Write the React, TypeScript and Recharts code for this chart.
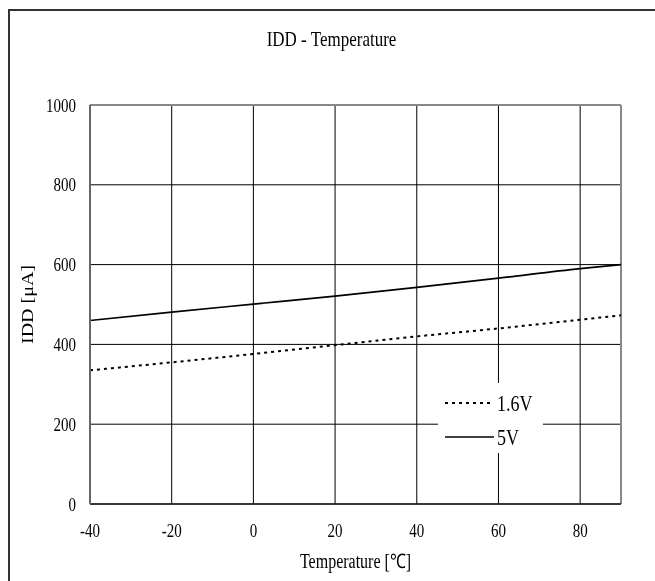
import { LineChart, Line, XAxis, YAxis, CartesianGrid, ReferenceLine, Legend, Label } from 'recharts';

const temperatures = [-40, -20, 0, 20, 40, 60, 80, 90];
const idd16V = [335, 355, 376, 398, 420, 440, 462, 473];
const idd5V = [460, 481, 501, 521, 543, 566, 590, 600];

const xTicks = [-40, -20, 0, 20, 40, 60, 80];
const yTicks = [0, 200, 400, 600, 800, 1000];

const rows = temperatures.map((t, i) => ({ t, v16: idd16V[i], v5: idd5V[i] }));

const FONT = '"Liberation Serif", "Times New Roman", serif';
// glyphs in this sheet are a bit taller than wide
const STRETCH = 1.25;

const XTick = ({ x, y, payload }: any) => (
  <text
    transform={`translate(${x},${y}) scale(1,${STRETCH})`}
    textAnchor="middle"
    dy="0.71em"
    fontSize={15}
    fontFamily={FONT}
    fill="#000"
  >
    {payload.value}
  </text>
);

const YTick = ({ x, y, payload }: any) => (
  <text
    transform={`translate(${x},${y}) scale(1,${STRETCH})`}
    textAnchor="end"
    dy="0.355em"
    fontSize={15}
    fontFamily={FONT}
    fill="#000"
  >
    {payload.value}
  </text>
);

const LegendBox = ({ payload }: any) => (
  <div style={{ width: 105, height: 70, background: '#fff', position: 'relative' }}>
    {(payload || []).map((p: any, i: number) => (
      <div
        key={p.value}
        style={{ position: 'absolute', left: 7, top: 10 + i * 34, height: 20, display: 'flex', alignItems: 'center' }}
      >
        <svg width={52} height={20}>
          <line
            x1={0}
            y1={10}
            x2={49}
            y2={10}
            stroke="#000"
            strokeWidth={p.payload.strokeDasharray ? 2 : 1.6}
            strokeDasharray={p.payload.strokeDasharray}
          />
        </svg>
        <span
          style={{
            fontFamily: FONT,
            fontSize: 18,
            display: 'inline-block',
            transform: `scaleY(${STRETCH})`,
            lineHeight: '20px',
          }}
        >
          {p.value}
        </span>
      </div>
    ))}
  </div>
);

export default function App() {
  return (
    // fixed so nothing spills into page scrollbars
    <div style={{ position: 'fixed', left: 8, top: 8, width: 647, height: 573, overflow: 'hidden' }}>
      {/* frame: only the left and top edges fall inside the page */}
      <div
        style={{
          position: 'absolute',
          left: 0,
          top: 1,
          width: 660,
          height: 600,
          borderLeft: '2px solid #333',
          borderTop: '2px solid #333',
          boxSizing: 'border-box',
        }}
      />
      <div
        style={{
          position: 'absolute',
          left: 0,
          top: 22,
          width: 647,
          textAlign: 'center',
          fontFamily: FONT,
          fontSize: 17,
          transform: `scaleY(${STRETCH})`,
        }}
      >
        IDD - Temperature
      </div>
      <LineChart
        width={647}
        height={573}
        data={rows}
        margin={{ top: 97, right: 34, left: 0, bottom: 0 }}
        style={{ position: 'absolute', left: 0, top: 0 }}
      >
        <CartesianGrid stroke="#000" strokeWidth={1} />
        <XAxis
          dataKey="t"
          type="number"
          domain={[-40, 90]}
          ticks={xTicks}
          height={77}
          tickLine={false}
          tickSize={8}
          tickMargin={12}
          tick={<XTick />}
          axisLine={{ stroke: '#222', strokeWidth: 1.5 }}
        >
          <Label
            content={({ viewBox }: any) => (
              <text
                transform={`translate(${viewBox.x + viewBox.width / 2},${viewBox.y + 64}) scale(1,${STRETCH})`}
                textAnchor="middle"
                fontSize={16}
                fontFamily={FONT}
                fill="#000"
              >
                Temperature [℃]
              </text>
            )}
          />
        </XAxis>
        <YAxis
          type="number"
          domain={[0, 1000]}
          ticks={yTicks}
          width={82}
          tickLine={false}
          tickSize={6}
          tickMargin={8}
          tick={<YTick />}
          axisLine={{ stroke: '#666', strokeWidth: 2 }}
        >
          <Label
            content={({ viewBox }: any) => (
              <text
                transform={`translate(${viewBox.x + 25},${viewBox.y + viewBox.height / 2}) scale(1,${STRETCH}) rotate(-90)`}
                textAnchor="middle"
                fontSize={16}
                fontFamily={FONT}
                fill="#000"
              >
                IDD [μA]
              </text>
            )}
          />
        </YAxis>
        <ReferenceLine x={90} stroke="#888" strokeWidth={2} />
        <ReferenceLine y={1000} stroke="#888" strokeWidth={2} />
        <Line
          dataKey="v16"
          name="1.6V"
          type="monotone"
          stroke="#000"
          strokeWidth={2}
          strokeDasharray="3 4"
          dot={false}
          isAnimationActive={false}
        />
        <Line
          dataKey="v5"
          name="5V"
          type="monotone"
          stroke="#000"
          strokeWidth={1.6}
          dot={false}
          isAnimationActive={false}
        />
        <Legend
          layout="vertical"
          align="center"
          verticalAlign="middle"
          content={<LegendBox />}
          wrapperStyle={{ left: 430, top: 375, width: 105, height: 70 }}
        />
      </LineChart>
    </div>
  );
}
